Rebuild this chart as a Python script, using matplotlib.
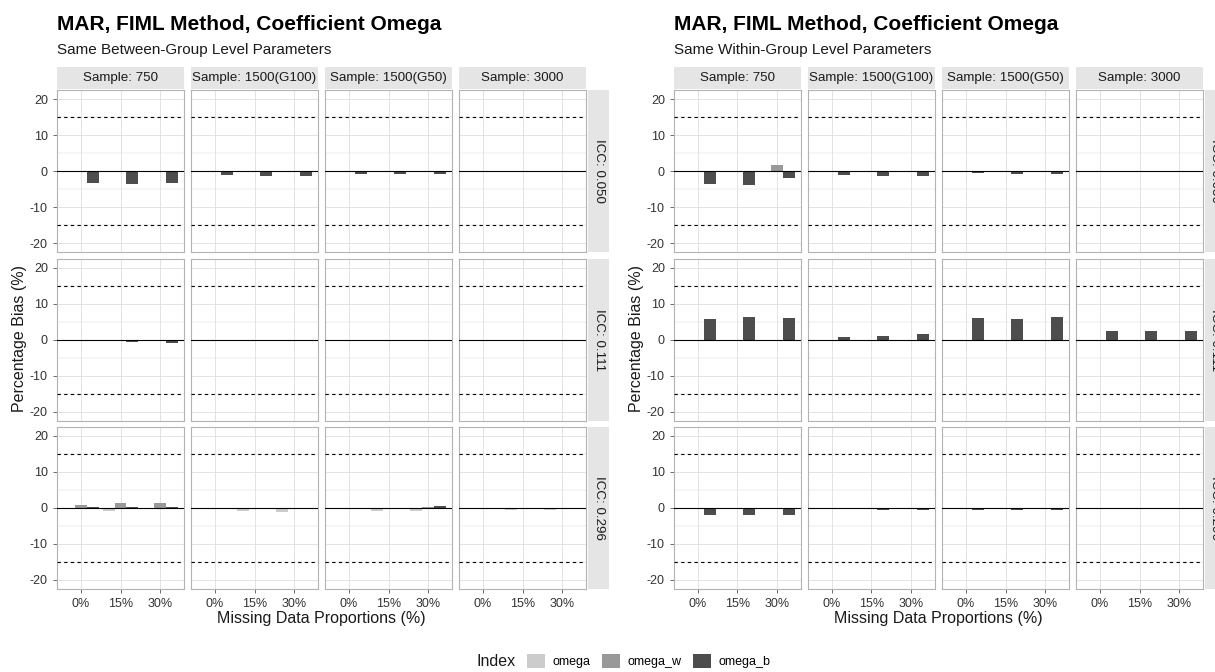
import numpy as np
import matplotlib as mpl
import matplotlib.pyplot as plt
from matplotlib.patches import Patch

mpl.rcParams['font.family'] = ['Liberation Sans', 'DejaVu Sans']

# facets and groups
icc_levels = ['0.050', '0.111', '0.296']
samples = ['750', '1500(G100)', '1500(G50)', '3000']
missing = ['0%', '15%', '30%']
indices = ['omega', 'omega_w', 'omega_b']
fills = ['#CCCCCC', '#999999', '#4D4D4D']

# percentage bias, [icc][sample][missing]
between_omega = [
    [[0, 0, 0], [0, 0, 0], [0, 0, 0], [0, 0, 0]],
    [[0, 0, 0], [0, 0, 0], [0, 0, 0], [0, 0, 0]],
    [[-0.4, -0.7, -0.3], [-0.3, -0.7, -1.0], [-0.2, -0.9, -0.7], [0, -0.5, -0.5]],
]
between_omega_w = [
    [[0, 0, 0], [0, 0, 0], [0, 0, 0], [0, 0, 0]],
    [[0, 0, 0], [0, 0, 0], [0, 0, 0], [0, 0, 0]],
    [[0.8, 1.4, 1.4], [0, 0, 0], [0, 0, 0.4], [0, 0, 0]],
]
between_omega_b = [
    [[-3.3, -3.7, -3.3], [-1.0, -1.3, -1.3], [-0.7, -0.7, -0.7], [0, 0, 0]],
    [[-0.4, -0.5, -0.7], [0, 0, 0], [0, 0, 0], [0, 0, 0]],
    [[0.4, 0.4, 0.4], [0, 0, 0], [0, 0, 0.5], [0, 0, 0]],
]

within_omega = [
    [[0, 0, 0], [0, 0, 0], [0, 0, 0], [0, 0, 0]],
    [[0, 0, 0], [0, 0, 0], [0, 0, 0], [0, 0, 0]],
    [[0, 0, 0], [0, 0, 0], [0, 0, 0], [0, 0, 0]],
]
within_omega_w = [
    [[0, 0, 1.7], [0, 0, 0], [0, 0, 0], [0, 0, 0]],
    [[0, 0, 0], [0, 0, 0], [0, 0, 0], [0, 0, 0]],
    [[0, 0, 0], [0, 0, 0], [0, 0, 0], [0, 0, 0]],
]
within_omega_b = [
    [[-3.5, -3.8, -2.0], [-1.0, -1.3, -1.3], [-0.6, -0.7, -0.7], [0, 0, 0]],
    [[5.8, 6.4, 6.2], [0.9, 1.2, 1.6], [6.2, 5.8, 6.4], [2.4, 2.4, 2.4]],
    [[-1.9, -1.9, -1.9], [-0.4, -0.6, -0.6], [-0.6, -0.6, -0.6], [0, 0, 0]],
]

title = 'MAR, FIML Method, Coefficient Omega'
subtitles = ['Same Between-Group Level Parameters', 'Same Within-Group Level Parameters']

W, H = 1215, 672
fig = plt.figure(figsize=(W / 100, H / 100), dpi=100)
fig.patch.set_facecolor('white')


def rect(x0, y0, w, h):
    # pixel box (top-left origin) -> figure fraction
    return [x0 / W, 1 - (y0 + h) / H, w / W, h / H]


col_w, col_step = 127, 134
row_h, row_tops = 162, [90, 259, 427]
strip_h, strip_w = 22, 21
grid_col = '#DEDEDE'
border_col = '#B3B3B3'
strip_fill = '#E5E5E5'
text_col = '#1A1A1A'


def draw_chart(x_left, subtitle, series):
    fig.text(x_left / W, 1 - 30 / H, title, fontsize=15, fontweight='bold',
             color='black', va='baseline', ha='left')
    fig.text(x_left / W, 1 - 54 / H, subtitle, fontsize=11, color=text_col,
             va='baseline', ha='left')
    x = np.arange(1, len(missing) + 1)
    offs = [-0.3, 0.0, 0.3]
    for r, icc in enumerate(icc_levels):
        for c, samp in enumerate(samples):
            ax = fig.add_axes(rect(x_left + c * col_step, row_tops[r], col_w, row_h))
            ax.set_xlim(0.4, 3.6)
            ax.set_ylim(-22.5, 22.5)
            ax.set_yticks([-20, -10, 0, 10, 20])
            ax.set_yticks([-15, -5, 5, 15], minor=True)
            ax.set_xticks(x)
            ax.grid(True, which='major', color=grid_col, lw=0.6, zorder=0)
            ax.grid(True, which='minor', axis='y', color=grid_col, lw=0.35, zorder=0)
            ax.set_axisbelow(True)
            for k, vals in enumerate(series):
                ax.bar(x + offs[k], vals[r][c], width=0.3, color=fills[k],
                       zorder=2, linewidth=0)
            ax.axhline(0, color='black', lw=0.8, zorder=3)
            for yv in (15, -15):
                ax.axhline(yv, color='black', lw=0.8, ls=(0, (3, 3)), zorder=3)
            for sp in ax.spines.values():
                sp.set_color(border_col)
                sp.set_linewidth(0.8)
            ax.tick_params(axis='both', which='both', length=0, colors='#333333',
                           labelsize=9)
            ax.tick_params(axis='y', which='major', length=3, color='#333333', width=0.5)
            ax.tick_params(axis='x', which='major', length=3, color='#333333', width=0.5)
            if c == 0:
                ax.set_yticklabels(['-20', '-10', '0', '10', '20'])
            else:
                ax.tick_params(axis='y', which='major', labelleft=False, length=0)
            if r == len(icc_levels) - 1:
                ax.set_xticklabels(missing)
            else:
                ax.tick_params(axis='x', which='major', labelbottom=False, length=0)
            # top strip
            if r == 0:
                st = fig.add_axes(rect(x_left + c * col_step, row_tops[0] - strip_h - 1,
                                       col_w, strip_h))
                st.set_facecolor(strip_fill)
                st.set_xticks([]); st.set_yticks([])
                for sp in st.spines.values():
                    sp.set_visible(False)
                st.text(0.5, 0.5, f'Sample: {samp}', ha='center', va='center',
                        fontsize=9.6, color=text_col, transform=st.transAxes)
        # right strip
        st = fig.add_axes(rect(x_left + 3 * col_step + col_w + 2, row_tops[r],
                               strip_w, row_h))
        st.set_facecolor(strip_fill)
        st.set_xticks([]); st.set_yticks([])
        for sp in st.spines.values():
            sp.set_visible(False)
        st.text(0.5, 0.5, f'ICC: {icc}', ha='center', va='center', rotation=-90,
                fontsize=9.6, color=text_col, transform=st.transAxes)
    mid_x = x_left + (3 * col_step + col_w) / 2
    fig.text(mid_x / W, 1 - 618 / H, 'Missing Data Proportions (%)', fontsize=11.5,
             color=text_col, ha='center', va='center')
    fig.text((x_left - 37) / W, 1 - 339 / H, 'Percentage Bias (%)', fontsize=11.5,
             color=text_col, ha='center', va='center', rotation=90)


draw_chart(57, subtitles[0], [between_omega, between_omega_w, between_omega_b])
draw_chart(674, subtitles[1], [within_omega, within_omega_w, within_omega_b])

# shared legend along the bottom
handles = [Patch(facecolor=f, edgecolor='none') for f in fills]
fig.text(476 / W, 1 - 661 / H, 'Index', fontsize=11.5, color=text_col,
         ha='left', va='center')
fig.legend(handles, indices, ncol=3, loc='center left',
           bbox_to_anchor=(527 / W, 1 - 661 / H), frameon=False, fontsize=9,
           handlelength=1.45, handleheight=1.45, columnspacing=0.9,
           handletextpad=0.6, borderpad=0, borderaxespad=0)

fig.savefig('out.png', dpi=100, facecolor='white')
